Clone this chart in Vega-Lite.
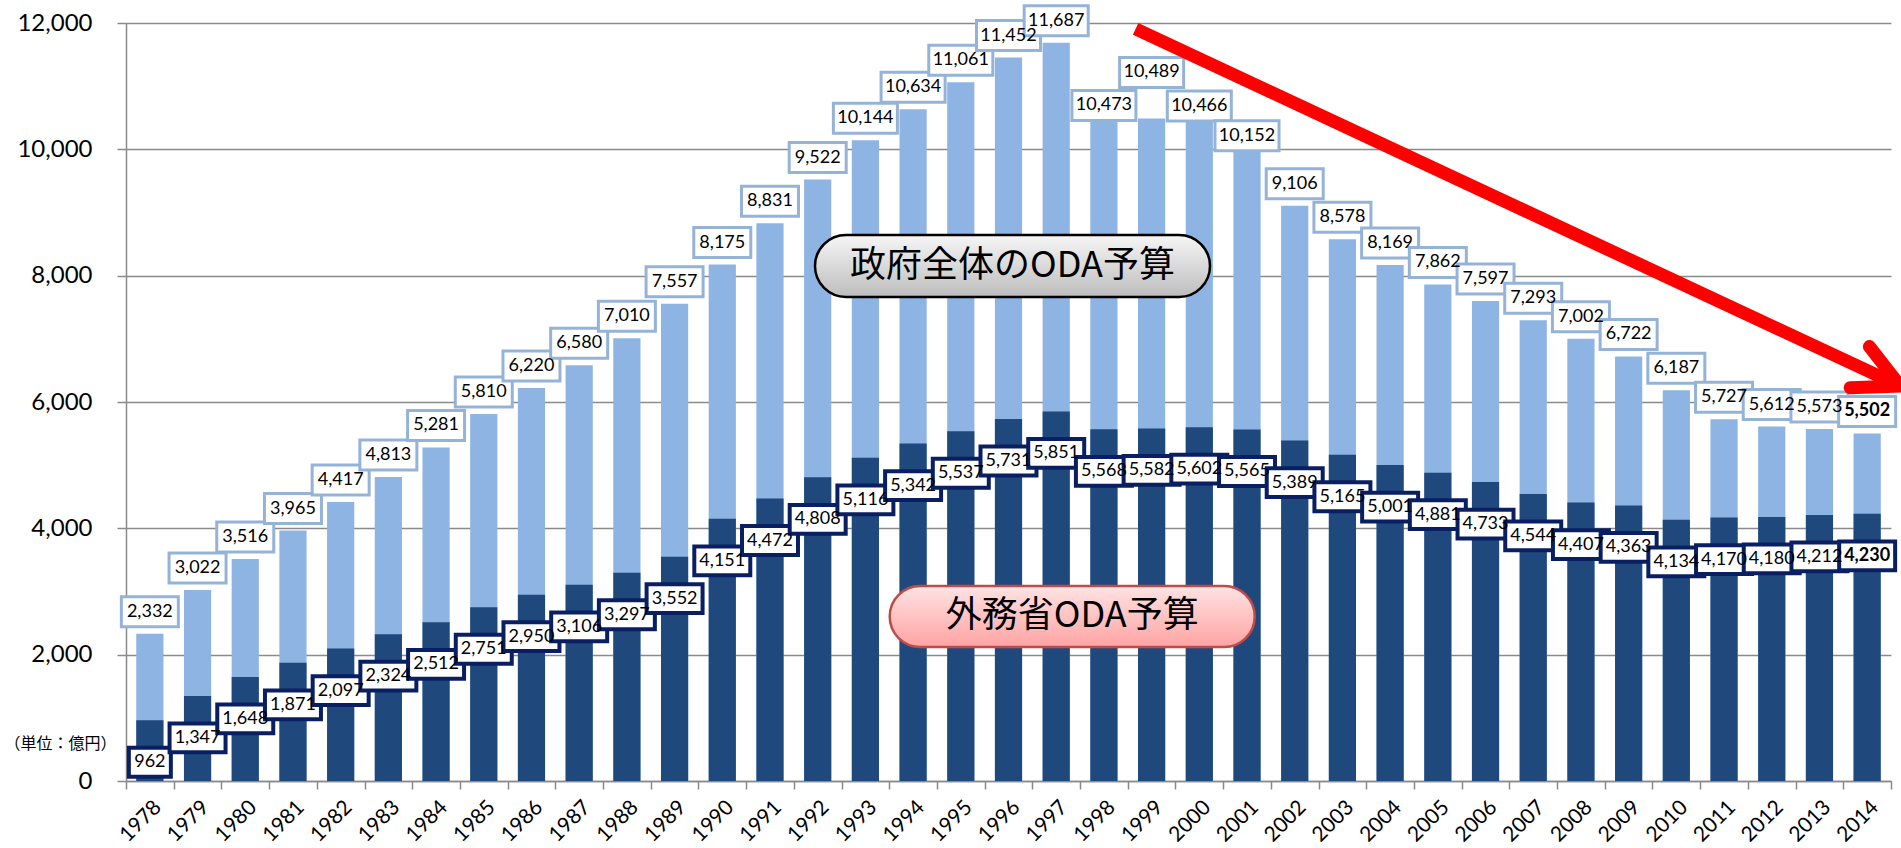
{
  "$schema": "https://vega.github.io/schema/vega-lite/v6.json",
  "width": 1765,
  "height": 758,
  "autosize": {"type": "none"},
  "padding": {"left": 126, "top": 23, "right": 10, "bottom": 67},
  "background": "white",
  "config": {"view": {"stroke": null}, "font": "Lato"},
  "datasets": {
    "oda": [
      {"year": 1978, "total": 2332, "mofa": 962},
      {"year": 1979, "total": 3022, "mofa": 1347},
      {"year": 1980, "total": 3516, "mofa": 1648},
      {"year": 1981, "total": 3965, "mofa": 1871},
      {"year": 1982, "total": 4417, "mofa": 2097},
      {"year": 1983, "total": 4813, "mofa": 2324},
      {"year": 1984, "total": 5281, "mofa": 2512},
      {"year": 1985, "total": 5810, "mofa": 2751},
      {"year": 1986, "total": 6220, "mofa": 2950},
      {"year": 1987, "total": 6580, "mofa": 3106},
      {"year": 1988, "total": 7010, "mofa": 3297},
      {"year": 1989, "total": 7557, "mofa": 3552},
      {"year": 1990, "total": 8175, "mofa": 4151},
      {"year": 1991, "total": 8831, "mofa": 4472},
      {"year": 1992, "total": 9522, "mofa": 4808},
      {"year": 1993, "total": 10144, "mofa": 5116},
      {"year": 1994, "total": 10634, "mofa": 5342},
      {"year": 1995, "total": 11061, "mofa": 5537},
      {"year": 1996, "total": 11452, "mofa": 5731},
      {"year": 1997, "total": 11687, "mofa": 5851},
      {"year": 1998, "total": 10473, "mofa": 5568},
      {"year": 1999, "total": 10489, "mofa": 5582},
      {"year": 2000, "total": 10466, "mofa": 5602},
      {"year": 2001, "total": 10152, "mofa": 5565},
      {"year": 2002, "total": 9106, "mofa": 5389},
      {"year": 2003, "total": 8578, "mofa": 5165},
      {"year": 2004, "total": 8169, "mofa": 5001},
      {"year": 2005, "total": 7862, "mofa": 4881},
      {"year": 2006, "total": 7597, "mofa": 4733},
      {"year": 2007, "total": 7293, "mofa": 4544},
      {"year": 2008, "total": 7002, "mofa": 4407},
      {"year": 2009, "total": 6722, "mofa": 4363},
      {"year": 2010, "total": 6187, "mofa": 4134},
      {"year": 2011, "total": 5727, "mofa": 4170},
      {"year": 2012, "total": 5612, "mofa": 4180},
      {"year": 2013, "total": 5573, "mofa": 4212},
      {"year": 2014, "total": 5502, "mofa": 4230}
    ],
    "callouts": [
      {"year": 1996, "value": 8154, "label": "政府全体のODA予算", "kind": "gov"},
      {"year": 1997, "value": 2605, "label": "外務省ODA予算", "kind": "mofa"}
    ],
    "arrow": [
      {"year": 1999, "year2": 2014, "value": 11907, "value2": 6254}
    ],
    "arrowTip": [
      {"year": 2014, "value": 6254}
    ]
  },
  "encoding": {
    "x": {
      "field": "year",
      "type": "ordinal",
      "scale": {"paddingInner": 0, "paddingOuter": 0},
      "axis": {
        "title": null,
        "labelAngle": -45,
        "labelFont": "Lato",
        "labelFontSize": 21,
        "labelColor": "#000000",
        "tickBand": "extent",
        "tickSize": 8,
        "tickColor": "#8a8a8a",
        "tickWidth": 1.5,
        "domainColor": "#8a8a8a",
        "domainWidth": 1.5,
        "labelPadding": 7,
        "grid": false
      }
    },
    "y": {
      "field": "value",
      "type": "quantitative",
      "scale": {"domain": [0, 12000], "nice": false},
      "axis": {
        "values": [0, 2000, 4000, 6000, 8000, 10000, 12000],
        "format": ",.0f",
        "grid": true,
        "gridColor": "#8a8a8a",
        "gridWidth": 1.5,
        "domainColor": "#8a8a8a",
        "domainWidth": 1.5,
        "tickColor": "#8a8a8a",
        "tickWidth": 1.5,
        "tickSize": 9,
        "labelFont": "Lato",
        "labelFontSize": 24,
        "labelColor": "#000000",
        "labelPadding": 25,
        "title": "（単位：億円）",
        "titleAngle": 0,
        "titleX": -66,
        "titleY": 720,
        "titleAlign": "center",
        "titleBaseline": "middle",
        "titleFont": "Noto Sans CJK JP",
        "titleFontSize": 16,
        "titleFontWeight": "normal",
        "titleColor": "#000000"
      }
    }
  },
  "layer": [
    {
      "data": {"name": "oda"},
      "transform": [{"fold": ["total", "mofa"], "as": ["key", "value"]}, {"filter": "datum.key == 'total'"}],
      "mark": {"type": "bar", "color": "#8DB4E2", "width": {"band": 0.57}}
    },
    {
      "data": {"name": "oda"},
      "transform": [{"fold": ["total", "mofa"], "as": ["key", "value"]}, {"filter": "datum.key == 'mofa'"}],
      "mark": {"type": "bar", "color": "#1F497D", "width": {"band": 0.57}}
    },
    {
      "data": {"name": "oda"},
      "transform": [{"fold": ["total", "mofa"], "as": ["key", "value"]}, {"filter": "datum.key == 'total' && indexof([1998, 1999, 2000, 2001], datum.year) < 0"}],
      "mark": {"type": "point", "filled": true, "fill": "white", "stroke": "#95B3D7", "strokeWidth": 3, "size": 3600, "opacity": 1, "fillOpacity": 1, "strokeOpacity": 1, "yOffset": -22},
      "encoding": {
        "shape": {
          "condition": {"test": "datum.value >= 10000", "value": "M-1.067,-0.5H1.067V0.5H-1.067Z"},
          "value": "M-0.95,-0.5H0.95V0.5H-0.95Z"
        }
      }
    },
    {
      "data": {"name": "oda"},
      "transform": [{"fold": ["total", "mofa"], "as": ["key", "value"]}, {"filter": "datum.key == 'total' && (datum.year == 1998 || datum.year == 2000)"}],
      "mark": {"type": "point", "filled": true, "fill": "white", "stroke": "#95B3D7", "strokeWidth": 3, "size": 3600, "opacity": 1, "fillOpacity": 1, "strokeOpacity": 1, "yOffset": -14,
        "shape": "M-1.067,-0.5H1.067V0.5H-1.067Z"}
    },
    {
      "data": {"name": "oda"},
      "transform": [{"fold": ["total", "mofa"], "as": ["key", "value"]}, {"filter": "datum.key == 'total' && datum.year == 1999"}],
      "mark": {"type": "point", "filled": true, "fill": "white", "stroke": "#95B3D7", "strokeWidth": 3, "size": 3600, "opacity": 1, "fillOpacity": 1, "strokeOpacity": 1, "yOffset": -46,
        "shape": "M-1.067,-0.5H1.067V0.5H-1.067Z"}
    },
    {
      "data": {"name": "oda"},
      "transform": [{"fold": ["total", "mofa"], "as": ["key", "value"]}, {"filter": "datum.key == 'total' && datum.year == 2001"}],
      "mark": {"type": "point", "filled": true, "fill": "white", "stroke": "#95B3D7", "strokeWidth": 3, "size": 3600, "opacity": 1, "fillOpacity": 1, "strokeOpacity": 1, "yOffset": -4,
        "shape": "M-1.067,-0.5H1.067V0.5H-1.067Z"}
    },
    {
      "data": {"name": "oda"},
      "transform": [{"fold": ["total", "mofa"], "as": ["key", "value"]}, {"filter": "datum.key == 'total' && datum.year != 2014 && indexof([1998, 1999, 2000, 2001], datum.year) < 0"}],
      "mark": {"type": "text", "font": "Lato", "fontSize": 18, "color": "#000000", "align": "center", "baseline": "middle", "yOffset": -22},
      "encoding": {"text": {"field": "value", "type": "quantitative", "format": ","}}
    },
    {
      "data": {"name": "oda"},
      "transform": [{"fold": ["total", "mofa"], "as": ["key", "value"]}, {"filter": "datum.key == 'total' && (datum.year == 1998 || datum.year == 2000)"}],
      "mark": {"type": "text", "font": "Lato", "fontSize": 18, "color": "#000000", "align": "center", "baseline": "middle", "yOffset": -14},
      "encoding": {"text": {"field": "value", "type": "quantitative", "format": ","}}
    },
    {
      "data": {"name": "oda"},
      "transform": [{"fold": ["total", "mofa"], "as": ["key", "value"]}, {"filter": "datum.key == 'total' && datum.year == 1999"}],
      "mark": {"type": "text", "font": "Lato", "fontSize": 18, "color": "#000000", "align": "center", "baseline": "middle", "yOffset": -46},
      "encoding": {"text": {"field": "value", "type": "quantitative", "format": ","}}
    },
    {
      "data": {"name": "oda"},
      "transform": [{"fold": ["total", "mofa"], "as": ["key", "value"]}, {"filter": "datum.key == 'total' && datum.year == 2001"}],
      "mark": {"type": "text", "font": "Lato", "fontSize": 18, "color": "#000000", "align": "center", "baseline": "middle", "yOffset": -4},
      "encoding": {"text": {"field": "value", "type": "quantitative", "format": ","}}
    },
    {
      "data": {"name": "oda"},
      "transform": [{"fold": ["total", "mofa"], "as": ["key", "value"]}, {"filter": "datum.key == 'total' && datum.year == 2014"}],
      "mark": {"type": "text", "font": "Lato", "fontSize": 18, "fontWeight": "bold", "color": "#000000", "align": "center", "baseline": "middle", "yOffset": -22},
      "encoding": {"text": {"field": "value", "type": "quantitative", "format": ","}}
    },
    {
      "data": {"name": "oda"},
      "transform": [{"fold": ["total", "mofa"], "as": ["key", "value"]}, {"filter": "datum.key == 'mofa'"}],
      "mark": {"type": "point", "filled": true, "fill": "white", "stroke": "#0A1F62", "strokeWidth": 4, "size": 3600, "opacity": 1, "fillOpacity": 1, "strokeOpacity": 1, "yOffset": 42},
      "encoding": {
        "shape": {
          "condition": {"test": "datum.value < 1000", "value": "M-0.7,-0.48H0.7V0.48H-0.7Z"},
          "value": "M-0.933,-0.48H0.933V0.48H-0.933Z"
        }
      }
    },
    {
      "data": {"name": "oda"},
      "transform": [{"fold": ["total", "mofa"], "as": ["key", "value"]}, {"filter": "datum.key == 'mofa' && datum.year != 2014"}],
      "mark": {"type": "text", "font": "Lato", "fontSize": 18, "color": "#000000", "align": "center", "baseline": "middle", "yOffset": 42},
      "encoding": {"text": {"field": "value", "type": "quantitative", "format": ","}}
    },
    {
      "data": {"name": "oda"},
      "transform": [{"fold": ["total", "mofa"], "as": ["key", "value"]}, {"filter": "datum.key == 'mofa' && datum.year == 2014"}],
      "mark": {"type": "text", "font": "Lato", "fontSize": 18, "fontWeight": "bold", "color": "#000000", "align": "center", "baseline": "middle", "yOffset": 42},
      "encoding": {"text": {"field": "value", "type": "quantitative", "format": ","}}
    },
    {
      "data": {"name": "callouts"},
      "transform": [{"filter": "datum.kind == 'gov'"}],
      "mark": {
        "type": "point", "filled": true, "size": 160000, "opacity": 1, "fillOpacity": 1, "strokeOpacity": 1, "xOffset": 4,
        "shape": "M-0.8325,-0.155L0.8325,-0.155A0.155,0.155 0 0 1 0.8325,0.155L-0.8325,0.155A0.155,0.155 0 0 1 -0.8325,-0.155Z",
        "fill": {"gradient": "linear", "x1": 0, "y1": 0, "x2": 0, "y2": 1, "stops": [{"offset": 0, "color": "#F6F6F6"}, {"offset": 1, "color": "#BDBDBD"}]},
        "stroke": "#000000", "strokeWidth": 2.5
      }
    },
    {
      "data": {"name": "callouts"},
      "transform": [{"filter": "datum.kind == 'mofa'"}],
      "mark": {
        "type": "point", "filled": true, "size": 160000, "opacity": 1, "fillOpacity": 1, "strokeOpacity": 1, "xOffset": 16,
        "shape": "M-0.76,-0.1525L0.76,-0.1525A0.1525,0.1525 0 0 1 0.76,0.1525L-0.76,0.1525A0.1525,0.1525 0 0 1 -0.76,-0.1525Z",
        "fill": {"gradient": "linear", "x1": 0, "y1": 0, "x2": 0, "y2": 1, "stops": [{"offset": 0, "color": "#FFE3E3"}, {"offset": 1, "color": "#FFA3A3"}]},
        "stroke": "#BE4B48", "strokeWidth": 2.5
      }
    },
    {
      "data": {"name": "callouts"},
      "transform": [{"filter": "datum.kind == 'gov'"}],
      "mark": {"type": "text", "font": "Noto Sans CJK JP", "fontSize": 36, "color": "#000000", "align": "center", "baseline": "middle", "xOffset": 4},
      "encoding": {"text": {"field": "label"}}
    },
    {
      "data": {"name": "callouts"},
      "transform": [{"filter": "datum.kind == 'mofa'"}],
      "mark": {"type": "text", "font": "Noto Sans CJK JP", "fontSize": 36, "color": "#000000", "align": "center", "baseline": "middle", "xOffset": 16},
      "encoding": {"text": {"field": "label"}}
    },
    {
      "data": {"name": "arrow"},
      "mark": {"type": "rule", "color": "#FF0000", "strokeWidth": 13, "strokeCap": "butt", "xOffset": -16, "x2Offset": 33},
      "encoding": {
        "x2": {"field": "year2"},
        "y2": {"field": "value2"}
      }
    },
    {
      "data": {"name": "arrowTip"},
      "mark": {
        "type": "point", "filled": false, "size": 7940, "angle": 25, "opacity": 1, "strokeOpacity": 1, "xOffset": 33,
        "shape": "M-1,-0.51L0,0L-1,0.51",
        "stroke": "#FF0000", "strokeWidth": 13, "strokeJoin": "miter", "strokeCap": "round"
      }
    }
  ]
}
